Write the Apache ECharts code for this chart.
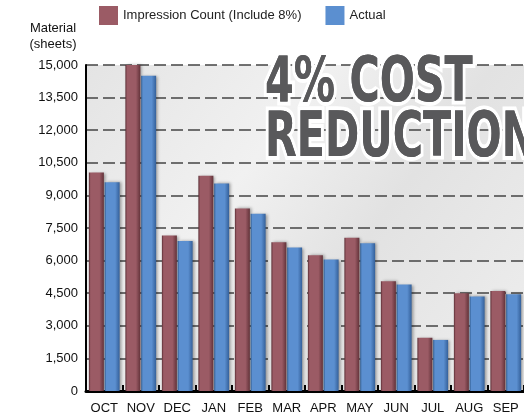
<!DOCTYPE html>
<html>
<head>
<meta charset="utf-8">
<script src="https://cdn.jsdelivr.net/npm/echarts@6/dist/echarts.min.js"></script>
<style>
  html, body { margin: 0; padding: 0; background: #fff; }
  #chart { width: 524px; height: 415px; }
</style>
</head>
<body>
<div id="chart"></div>
<script>
// months of the fiscal year, OCT first
const months = ['OCT', 'NOV', 'DEC', 'JAN', 'FEB', 'MAR', 'APR', 'MAY', 'JUN', 'JUL', 'AUG', 'SEP']
const impressionCount = [10050, 15000, 7150, 9900, 8400, 6850, 6250, 7050, 5050, 2450, 4500, 4600]
const actual = [9600, 14500, 6900, 9550, 8150, 6600, 6050, 6800, 4900, 2350, 4350, 4450]
const yTicks = [0, 1500, 3000, 4500, 6000, 7500, 9000, 10500, 12000, 13500, 15000]

const font = 'Liberation Sans, Arial, Helvetica, sans-serif'
const bigFont = '"DejaVu Sans Condensed", "Liberation Sans", sans-serif'

function barGrad(edge, mid, dark) {
    return new echarts.graphic.LinearGradient(0, 0, 1, 0, [
        { offset: 0, color: edge },
        { offset: 0.12, color: mid },
        { offset: 0.7, color: mid },
        { offset: 1, color: dark }
    ])
}

const chart = echarts.init(document.getElementById('chart'))

// big overlay caption: white outlined copy with shadow behind, plain fill on top
const bigText = (txt, y) => [
    {
        type: 'text', x: 265, y: y, z: 50, scaleX: 0.74,
        style: {
            text: txt, font: 'bold 62px ' + bigFont,
            fill: '#59595b', stroke: '#ffffff', lineWidth: 8,
            shadowBlur: 10, shadowColor: 'rgba(0,0,0,0.9)', shadowOffsetX: 4, shadowOffsetY: 4
        }
    },
    {
        type: 'text', x: 265, y: y, z: 51, scaleX: 0.74,
        style: { text: txt, font: 'bold 62px ' + bigFont, fill: '#59595b' }
    }
]

chart.setOption({
    animation: false,
    textStyle: { fontFamily: font },
    grid: {
        left: 86, right: -15, top: 65, bottom: 23,
        show: true, borderWidth: 0,
        backgroundColor: new echarts.graphic.LinearGradient(0, 0, 1, 1, [
            { offset: 0, color: '#e4e4e4' },
            { offset: 0.35, color: '#f1f1f1' },
            { offset: 0.6, color: '#e2e2e2' },
            { offset: 1, color: '#efefef' }
        ])
    },
    legend: {
        left: 99, top: 6, padding: 0, itemWidth: 19, itemHeight: 19, itemGap: 24, icon: 'rect',
        textStyle: { fontSize: 13, color: '#222', fontFamily: font },
        data: [
            { name: 'Impression Count (Include 8%)', itemStyle: { color: '#9b5b65' } },
            { name: 'Actual', itemStyle: { color: '#5b8fd0' } }
        ]
    },
    xAxis: {
        type: 'category',
        data: months,
        axisLine: { lineStyle: { color: '#000', width: 3 } },
        axisTick: { show: true, inside: true, length: 6, lineStyle: { color: '#000', width: 2 } },
        axisLabel: { fontSize: 13, color: '#111', margin: 11, interval: 0 }
    },
    yAxis: {
        type: 'value',
        min: yTicks[0], max: yTicks[yTicks.length - 1], interval: 1500,
        axisLine: { show: true, lineStyle: { color: '#000', width: 2 } },
        axisTick: { show: false },
        axisLabel: {
            fontSize: 13, color: '#111', margin: 8,
            formatter: v => v.toLocaleString('en-US')
        },
        splitLine: { show: true, lineStyle: { color: '#444', width: 1.5, type: [12, 5] } }
    },
    series: [
        {
            name: 'Impression Count (Include 8%)',
            type: 'bar',
            barWidth: 15,
            barGap: '5%',
            data: impressionCount,
            itemStyle: {
                color: barGrad('#5b2e35', '#9b5b65', '#623239'),
                shadowBlur: 3, shadowColor: 'rgba(0,0,0,0.35)', shadowOffsetX: 2
            }
        },
        {
            name: 'Actual',
            type: 'bar',
            barWidth: 15,
            data: actual,
            itemStyle: {
                color: barGrad('#2f5a8c', '#5b8fd0', '#34609a'),
                shadowBlur: 3, shadowColor: 'rgba(0,0,0,0.35)', shadowOffsetX: 2
            }
        }
    ],
    graphic: [
        {
            type: 'text', x: 53, y: 20,
            style: {
                text: 'Material\n(sheets)', font: '13px ' + font, fill: '#111',
                textAlign: 'center', lineHeight: 16
            }
        },
        ...bigText('4% COST', 54),
        ...bigText('REDUCTION', 109)
    ]
})
</script>
</body>
</html>
